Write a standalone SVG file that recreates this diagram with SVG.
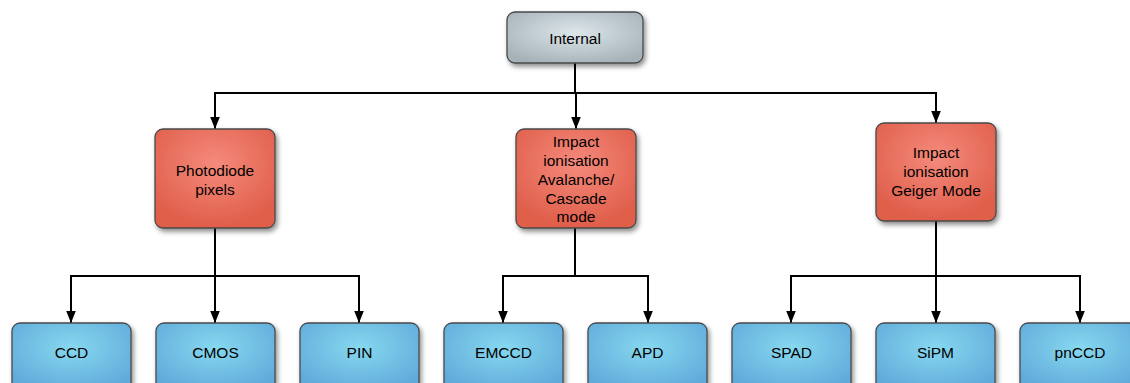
<svg xmlns="http://www.w3.org/2000/svg" width="1130" height="383" viewBox="0 0 1130 383">
<defs>
<radialGradient id="gGrey" cx="50%" cy="40%" r="65%">
<stop offset="0" stop-color="#dce6eb"/><stop offset="1" stop-color="#a6b2b8"/>
</radialGradient>
<radialGradient id="gRed" cx="50%" cy="35%" r="65%">
<stop offset="0" stop-color="#f58a7c"/><stop offset="1" stop-color="#df5e4a"/>
</radialGradient>
<radialGradient id="gBlue" cx="50%" cy="35%" r="65%">
<stop offset="0" stop-color="#86d8ef"/><stop offset="1" stop-color="#60aadb"/>
</radialGradient>
<filter id="sh" x="-20%" y="-20%" width="140%" height="150%">
<feDropShadow dx="2" dy="3" stdDeviation="2.5" flood-color="#000" flood-opacity="0.45"/>
</filter>
<marker id="arr" markerUnits="userSpaceOnUse" markerWidth="12" markerHeight="16" refX="15" refY="6" orient="auto" viewBox="0 0 15 12">
<path d="M0,0 L15,6 L0,12 Z" fill="#000"/>
</marker>
<style>
.box{stroke:#4a4a4a;stroke-width:1.3;filter:url(#sh)}
.grey{fill:url(#gGrey)}
.red{fill:url(#gRed)}
.blue{fill:url(#gBlue)}
.t{font-family:"Liberation Sans",Arial,sans-serif;font-size:15.5px;fill:#000;text-anchor:middle}
.c{fill:none;stroke:#000;stroke-width:2}
.a{fill:none;stroke:#000;stroke-width:2;marker-end:url(#arr)}
</style>
</defs>
<g id="connectors">
<path class="c" d="M575,63 V93 M215,93 H936"/>
<path class="a" d="M215,92 V129"/>
<path class="a" d="M576,93 V129"/>
<path class="a" d="M936,92 V123"/>
<path class="c" d="M215,228 V276 M71,276 H359"/>
<path class="a" d="M71,275 V323"/>
<path class="a" d="M215,276 V323"/>
<path class="a" d="M359,275 V323"/>
<path class="c" d="M575,228 V276 M503,276 H648"/>
<path class="a" d="M503,275 V323"/>
<path class="a" d="M648,275 V323"/>
<path class="c" d="M936,221 V276 M791,276 H1080"/>
<path class="a" d="M791,275 V323"/>
<path class="a" d="M936,276 V323"/>
<path class="a" d="M1080,275 V323"/>
</g>
<g id="internal"><rect class="box grey" x="507" y="12" width="136" height="51" rx="8"/><text class="t" x="575" y="43.5">Internal</text></g>
<g id="photodiode"><rect class="box red" x="155" y="129" width="120" height="99" rx="8"/><text class="t" x="215" y="176">Photodiode</text><text class="t" x="215" y="195">pixels</text></g>
<g id="avalanche"><rect class="box red" x="516" y="129" width="120" height="99" rx="8"/>
<text class="t" x="576" y="147">Impact</text><text class="t" x="576" y="166">ionisation</text><text class="t" x="576" y="185">Avalanche/</text><text class="t" x="576" y="203.5">Cascade</text><text class="t" x="576" y="222">mode</text></g>
<g id="geiger"><rect class="box red" x="876" y="123" width="120" height="98" rx="8"/>
<text class="t" x="936" y="158">Impact</text><text class="t" x="936" y="177">ionisation</text><text class="t" x="936" y="196">Geiger Mode</text></g>
<g id="ccd"><rect class="box blue" x="12" y="323" width="119" height="70" rx="8"/><text class="t" x="71.5" y="358">CCD</text></g>
<g id="cmos"><rect class="box blue" x="156" y="323" width="119" height="70" rx="8"/><text class="t" x="215.5" y="358">CMOS</text></g>
<g id="pin"><rect class="box blue" x="300" y="323" width="119" height="70" rx="8"/><text class="t" x="359.5" y="358">PIN</text></g>
<g id="emccd"><rect class="box blue" x="444" y="323" width="119" height="70" rx="8"/><text class="t" x="503.5" y="358">EMCCD</text></g>
<g id="apd"><rect class="box blue" x="588" y="323" width="119" height="70" rx="8"/><text class="t" x="647.5" y="358">APD</text></g>
<g id="spad"><rect class="box blue" x="732" y="323" width="119" height="70" rx="8"/><text class="t" x="791.5" y="358">SPAD</text></g>
<g id="sipm"><rect class="box blue" x="876" y="323" width="119" height="70" rx="8"/><text class="t" x="935.5" y="358">SiPM</text></g>
<g id="pnccd"><rect class="box blue" x="1020" y="323" width="119" height="70" rx="8"/><text class="t" x="1080" y="358">pnCCD</text></g>
</svg>
